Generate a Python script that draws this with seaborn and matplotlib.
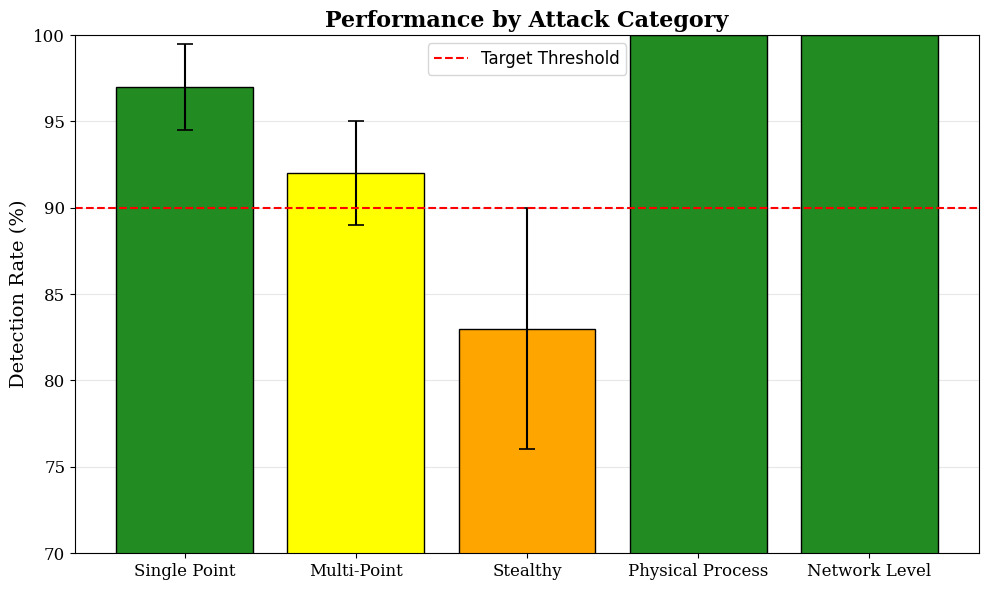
import pandas as pd
import numpy as np
import seaborn as sns
import matplotlib.pyplot as plt

plt.rcParams['font.family'] = 'DejaVu Serif'

categories = ["Single Point", "Multi-Point", "Stealthy", "Physical Process", "Network Level"]
detection = [97, 92, 83, 100, 100]
errors = [2.5, 3, 7, 0, 0]
colours = ["forestgreen", "yellow", "orange", "forestgreen", "forestgreen"]
target = 90

df = pd.DataFrame({"Category": categories, "Detection Rate (%)": detection})

fig, ax = plt.subplots(figsize=(9.89, 5.9), dpi=100)
ax.set_axisbelow(True)
ax.grid(axis="y", alpha=0.3)
sns.barplot(data=df, x="Category", y="Detection Rate (%)", hue="Category",
            palette=colours, edgecolor="black", linewidth=1, saturation=1,
            legend=False, ax=ax)
ax.errorbar(categories, detection, yerr=errors, fmt="none", ecolor="black",
            capsize=6, elinewidth=1.5, capthick=1.2)
ax.axhline(target, color="red", linestyle="--", linewidth=1.5, label="Target Threshold")
ax.set_ylim(70, 100)
ax.set_xlabel("")
ax.set_ylabel("Detection Rate (%)", fontsize=14)
ax.set_title("Performance by Attack Category", fontsize=16, fontweight="bold")
ax.tick_params(labelsize=12)
ax.legend(loc="upper center", prop={"family": "DejaVu Sans", "size": 12})
plt.subplots_adjust(left=75/989, right=979/989, top=1-35/590, bottom=1-553/590)
plt.savefig("out.png")
